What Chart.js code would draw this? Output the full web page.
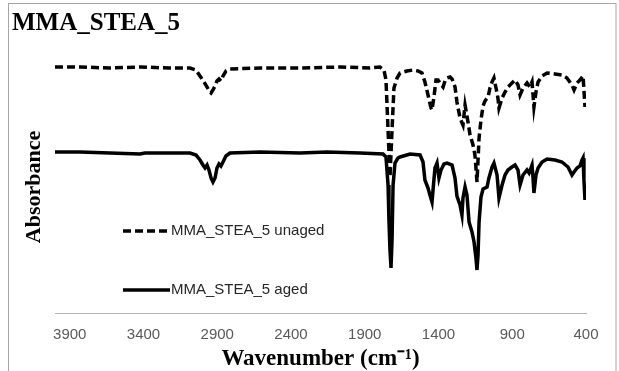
<!DOCTYPE html>
<html>
<head>
<meta charset="utf-8">
<title>MMA_STEA_5</title>
<script src="https://cdn.jsdelivr.net/npm/chart.js@4/dist/chart.umd.min.js"></script>
<style>
  html, body { margin: 0; padding: 0; background: #fff; }
  #wrap { width: 619px; height: 371px; }
</style>
</head>
<body>
<div id="wrap"><canvas id="ftirChart" width="619" height="371"></canvas></div>
<script>
// Wavenumbers (cm-1) and offset absorbance
const unagedWavenumber = [4000, 3830, 3627, 3424, 3220, 3085, 3044, 3017, 2990, 2969, 2956, 2942, 2929, 2915, 2902, 2888, 2875, 2861, 2841, 2814, 2610, 2339, 2068, 1864, 1797, 1770, 1756, 1742, 1729, 1715, 1702, 1681, 1661, 1614, 1573, 1539, 1512, 1492, 1471, 1451, 1444, 1430, 1417, 1403, 1390, 1369, 1356, 1342, 1322, 1308, 1288, 1275, 1254, 1234, 1220, 1214, 1200, 1186, 1166, 1153, 1146, 1139, 1132, 1125, 1112, 1098, 1085, 1064, 1051, 1037, 1024, 1010, 997, 990, 969, 949, 929, 902, 881, 861, 847, 827, 800, 780, 766, 759, 753, 739, 725, 698, 664, 610, 563, 529, 495, 481, 461, 441, 420, 414, 407];
const unagedAbsorbance = [2.46, 2.46, 2.45, 2.46, 2.45, 2.45, 2.43, 2.37, 2.31, 2.26, 2.22, 2.20, 2.23, 2.27, 2.32, 2.34, 2.32, 2.37, 2.42, 2.44, 2.45, 2.45, 2.46, 2.45, 2.46, 2.43, 2.33, 1.83, 1.36, 1.83, 2.25, 2.35, 2.40, 2.42, 2.43, 2.42, 2.40, 2.31, 2.18, 2.05, 2.03, 2.17, 2.33, 2.33, 2.30, 2.26, 2.32, 2.35, 2.36, 2.34, 2.26, 2.11, 1.95, 1.88, 2.08, 2.03, 1.91, 1.78, 1.68, 1.58, 1.45, 1.31, 1.53, 1.75, 1.93, 2.07, 2.12, 2.16, 2.25, 2.31, 2.35, 2.25, 2.15, 2.05, 2.15, 2.21, 2.26, 2.30, 2.33, 2.28, 2.18, 2.25, 2.30, 2.26, 2.31, 2.18, 2.06, 2.21, 2.31, 2.37, 2.40, 2.39, 2.38, 2.35, 2.28, 2.23, 2.30, 2.33, 2.37, 2.23, 2.06];

const agedWavenumber = [4000, 3830, 3627, 3424, 3390, 3220, 3085, 3044, 3017, 2997, 2983, 2969, 2956, 2942, 2929, 2915, 2902, 2888, 2875, 2861, 2841, 2814, 2610, 2339, 2156, 1932, 1776, 1756, 1742, 1736, 1729, 1722, 1715, 1708, 1695, 1675, 1661, 1593, 1525, 1505, 1492, 1471, 1458, 1444, 1437, 1424, 1410, 1397, 1383, 1363, 1342, 1308, 1288, 1275, 1254, 1241, 1234, 1220, 1207, 1193, 1173, 1159, 1146, 1139, 1132, 1125, 1112, 1098, 1071, 1058, 1037, 1024, 1003, 990, 969, 949, 929, 902, 881, 861, 847, 827, 800, 786, 766, 759, 753, 739, 725, 698, 664, 610, 563, 522, 495, 481, 461, 441, 427, 420, 414, 407];
const agedAbsorbance = [1.61, 1.61, 1.60, 1.59, 1.60, 1.60, 1.60, 1.58, 1.53, 1.48, 1.45, 1.48, 1.43, 1.35, 1.31, 1.35, 1.45, 1.49, 1.47, 1.51, 1.57, 1.60, 1.61, 1.60, 1.61, 1.60, 1.59, 1.56, 1.28, 0.93, 0.63, 0.45, 0.73, 1.28, 1.50, 1.55, 1.56, 1.59, 1.58, 1.51, 1.33, 1.25, 1.18, 1.11, 1.23, 1.45, 1.50, 1.35, 1.43, 1.49, 1.50, 1.48, 1.35, 1.17, 1.08, 0.98, 1.15, 1.26, 1.18, 0.91, 0.81, 0.71, 0.55, 0.43, 0.58, 0.91, 1.16, 1.24, 1.26, 1.35, 1.46, 1.50, 1.38, 1.15, 1.28, 1.38, 1.43, 1.46, 1.48, 1.43, 1.28, 1.38, 1.43, 1.40, 1.48, 1.35, 1.20, 1.38, 1.45, 1.51, 1.54, 1.53, 1.51, 1.46, 1.38, 1.41, 1.45, 1.47, 1.53, 1.55, 1.33, 1.13];

const xTickValues = [3900, 3400, 2900, 2400, 1900, 1400, 900, 400];
const seriesLabels = ["MMA_STEA_5 unaged", "MMA_STEA_5 aged"];

function toPoints(xs, ys) {
  return xs.map((x, i) => ({ x: x, y: ys[i] }));
}

// gray frame round the whole figure
const framePlugin = {
  id: "frame",
  beforeDraw(chart) {
    const ctx = chart.ctx;
    ctx.save();
    ctx.fillStyle = "#ffffff";
    ctx.fillRect(0, 0, chart.width, chart.height);
    ctx.strokeStyle = "#a6a6a6";
    ctx.lineWidth = 1;
    ctx.strokeRect(8.5, 3.5, 607.5, 400);
    ctx.restore();
  },
};

// legend sits inside the plot, one item under the other
const innerLegend = {
  id: "innerLegend",
  afterDatasetsDraw(chart) {
    const ctx = chart.ctx;
    const area = chart.chartArea;
    const left = area.left + 68;
    const rows = [231, 290];
    ctx.save();
    chart.data.datasets.forEach((ds, i) => {
      const y = rows[i];
      ctx.beginPath();
      ctx.setLineDash(ds.borderDash || []);
      ctx.lineWidth = ds.borderWidth;
      ctx.strokeStyle = ds.borderColor;
      ctx.moveTo(left, y);
      ctx.lineTo(left + 47, y);
      ctx.stroke();
      ctx.setLineDash([]);
      ctx.fillStyle = "#262626";
      ctx.font = "15px 'Liberation Sans', Arial, sans-serif";
      ctx.textBaseline = "middle";
      ctx.textAlign = "left";
      ctx.fillText(ds.label, left + 48, y);
    });
    ctx.restore();
  },
};

new Chart(document.getElementById("ftirChart"), {
  type: "line",
  data: {
    datasets: [
      {
        label: seriesLabels[0],
        data: toPoints(unagedWavenumber, unagedAbsorbance),
        borderColor: "#000000",
        borderWidth: 3.5,
        borderDash: [8, 4],
        pointRadius: 0,
        tension: 0,
      },
      {
        label: seriesLabels[1],
        data: toPoints(agedWavenumber, agedAbsorbance),
        borderColor: "#000000",
        borderWidth: 3.5,
        pointRadius: 0,
        tension: 0,
      },
    ],
  },
  options: {
    responsive: false,
    animation: false,
    layout: {
      padding: { left: 12, right: 33, top: 0, bottom: 0 },
    },
    plugins: {
      legend: { display: false },
      tooltip: { enabled: false },
      title: {
        display: true,
        text: "MMA_STEA_5",
        align: "start",
        color: "#000000",
        font: { family: "'Liberation Serif', 'Times New Roman', serif", size: 25, weight: "bold", lineHeight: 1.2 },
        padding: { top: 9, bottom: 22 },
      },
    },
    scales: {
      x: {
        type: "linear",
        reverse: true,
        min: 400,
        max: 4000,
        afterBuildTicks: (axis) => {
          axis.ticks = xTickValues.map((v) => ({ value: v }));
        },
        afterFit: (axis) => {
          axis.height = 58;
        },
        grid: { display: false, drawTicks: false },
        border: { display: true, color: "#b3b3b3", width: 1 },
        ticks: {
          color: "#595959",
          padding: 13,
          maxRotation: 0,
          autoSkip: false,
          font: { family: "'Liberation Sans', Arial, sans-serif", size: 15 },
          callback: (value) => String(value),
        },
        title: {
          display: true,
          text: "Wavenumber (cm\u207B\u00B9)",
          color: "#000000",
          font: { family: "'Liberation Serif', 'Times New Roman', serif", size: 23, weight: "bold", lineHeight: 1 },
          padding: { top: 0, bottom: 0 },
        },
      },
      y: {
        min: 0,
        max: 2.52,
        afterFit: (axis) => {
          axis.width = 43;
        },
        grid: { display: false, drawTicks: false },
        border: { display: false },
        ticks: { display: false },
        title: {
          display: true,
          text: "Absorbance",
          color: "#000000",
          font: { family: "'Liberation Serif', 'Times New Roman', serif", size: 22, weight: "bold", lineHeight: 1.2 },
          padding: { top: 9, bottom: 0 },
        },
      },
    },
  },
  plugins: [framePlugin, innerLegend],
});
</script>
</body>
</html>
